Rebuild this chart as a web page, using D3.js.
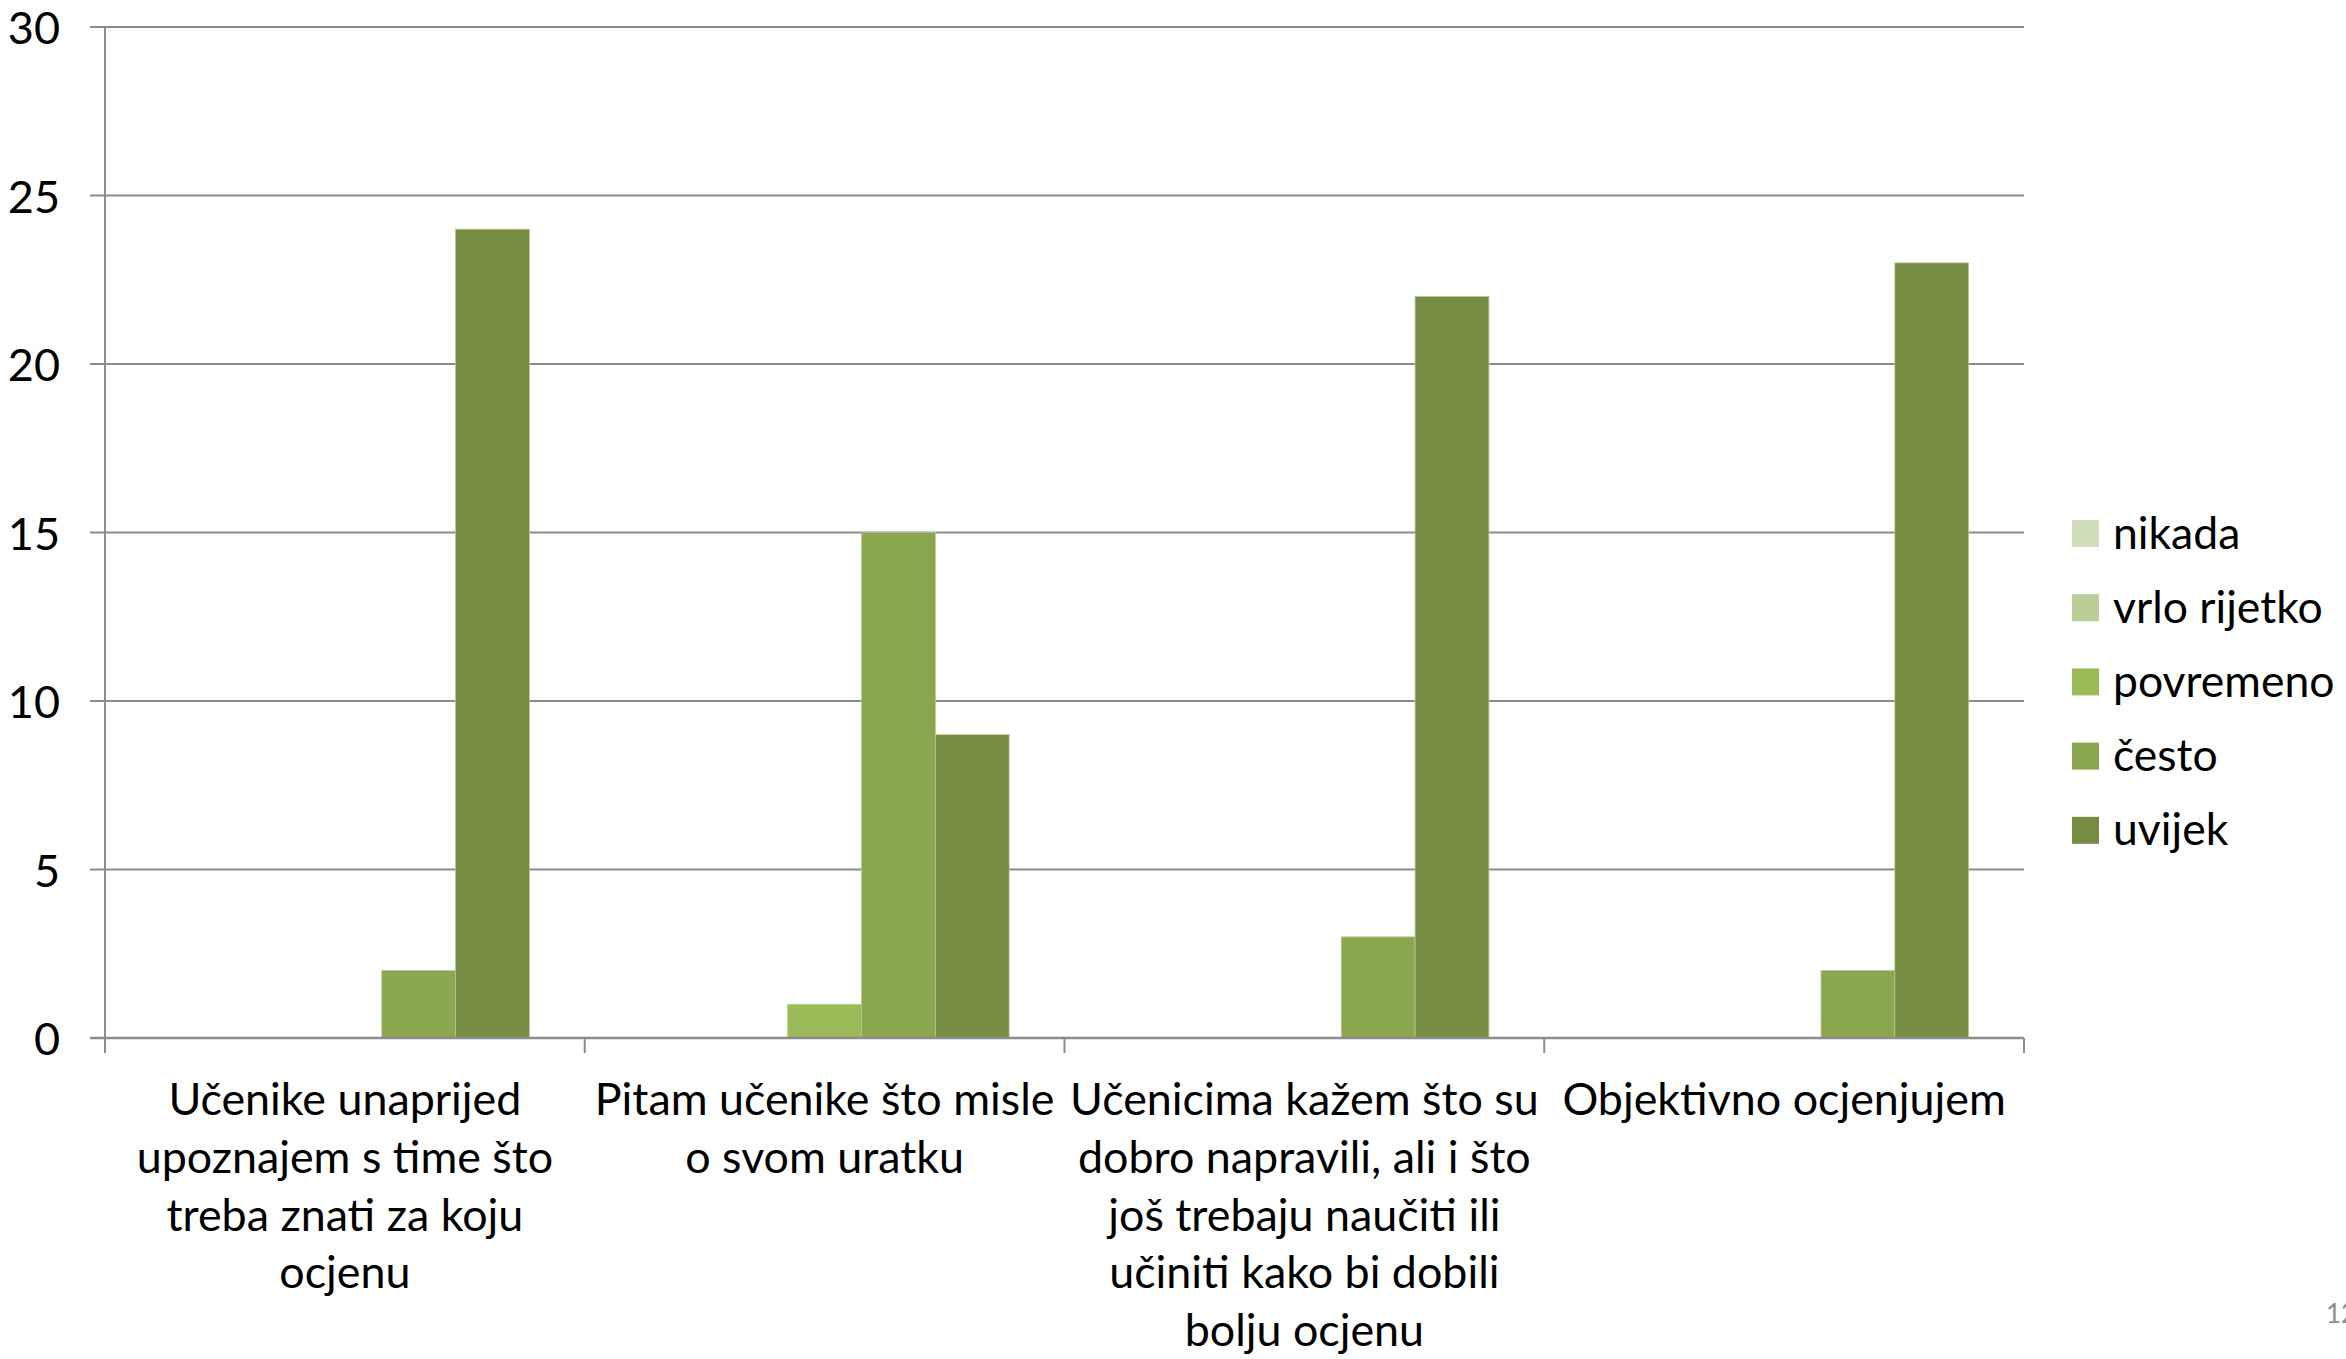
<!DOCTYPE html>
<html><head><meta charset="utf-8">
<script src="https://cdn.jsdelivr.net/npm/d3@7"></script>
<style>
html,body{margin:0;padding:0;background:#fff;overflow:hidden;}
text{font-family:Lato,"Open Sans",sans-serif;fill:#000;}
</style></head>
<body>
<svg id="chart" width="2346" height="1359"></svg>
<script>
const categories = [
  ["Učenike unaprijed","upoznajem s time što","treba znati za koju","ocjenu"],
  ["Pitam učenike što misle","o svom uratku"],
  ["Učenicima kažem što su","dobro napravili, ali i što","još trebaju naučiti ili","učiniti kako bi dobili","bolju ocjenu"],
  ["Objektivno ocjenjujem"]
];
const seriesNames = ["nikada","vrlo rijetko","povremeno","često","uvijek"];
const nikada      = [0, 0, 0, 0];
const vrloRijetko = [0, 0, 0, 0];
const povremeno   = [0, 1, 0, 0];
const cesto       = [2, 15, 3, 2];
const uvijek      = [24, 9, 22, 23];
const yTicks = [0, 5, 10, 15, 20, 25, 30];
const pageNumber = "12";

const seriesValues = [nikada, vrloRijetko, povremeno, cesto, uvijek];
const colors = ["#D1DEBC","#BACF98","#9BBB59","#8AA64F","#758C42"];

const svg = d3.select("#chart");
const L = 105, R = 2024, T = 27, B = 1038;

const catIdx = categories.map((c,i)=>i);
const x0 = d3.scaleBand().domain(catIdx).range([L, R]).padding(0);
const bw = x0.bandwidth();
const barW = bw / 6.5;
const x1 = d3.scaleBand().domain(seriesNames).range([0.75*barW, bw - 0.75*barW]).padding(0);
const y = d3.scaleLinear().domain([0, 30]).range([B, T]);

// gridlines
svg.append("g").selectAll("line").data(yTicks).join("line")
  .attr("x1", L - 15).attr("x2", R)
  .attr("y1", d => y(d)).attr("y2", d => y(d))
  .attr("stroke", "#8C8C8C").attr("stroke-width", 2);

// y tick labels
svg.append("g").selectAll("text").data(yTicks).join("text")
  .attr("x", 60).attr("y", d => y(d))
  .attr("text-anchor", "end").attr("dominant-baseline", "central")
  .style("font-size", "45px")
  .text(d => d);

// bars
const barData = [];
seriesValues.forEach((arr, si) => arr.forEach((v, ci) => barData.push({s: seriesNames[si], si, ci, v})));
svg.append("g").selectAll("rect").data(barData.filter(d => d.v > 0)).join("rect")
  .attr("x", d => x0(d.ci) + x1(d.s))
  .attr("width", x1.bandwidth())
  .attr("y", d => y(d.v))
  .attr("height", d => y(0) - y(d.v))
  .attr("fill", d => colors[d.si])
  .attr("stroke", "#B5C98E").attr("stroke-width", 0.8);

// axes lines
svg.append("line").attr("x1", L).attr("x2", L).attr("y1", T).attr("y2", B + 15)
  .attr("stroke", "#8C8C8C").attr("stroke-width", 2);
svg.append("line").attr("x1", L - 15).attr("x2", R).attr("y1", B).attr("y2", B)
  .attr("stroke", "#8C8C8C").attr("stroke-width", 2.5);
const bounds = catIdx.map(i => x0(i)).concat([R]);
svg.append("g").selectAll("line").data(bounds).join("line")
  .attr("x1", d => d).attr("x2", d => d).attr("y1", B).attr("y2", B + 15)
  .attr("stroke", "#8C8C8C").attr("stroke-width", 2);

// category labels
const lab = svg.append("g").selectAll("text").data(categories).join("text")
  .attr("text-anchor", "middle")
  .style("font-size", "44.8px");
lab.each(function(lines, i) {
  const t = d3.select(this);
  lines.forEach((ln, j) => {
    t.append("tspan").attr("x", x0(i) + bw/2).attr("y", 1098 + j*57.8)
      .attr("dominant-baseline", "central").text(ln);
  });
});

// legend
const lg = svg.append("g").selectAll("g").data(seriesNames).join("g")
  .attr("transform", (d,i) => `translate(2072, ${520 + i*74.2})`);
lg.append("rect").attr("width", 27).attr("height", 27).attr("fill", (d,i) => colors[i]);
lg.append("text").attr("x", 41).attr("y", 11).attr("dominant-baseline", "central")
  .style("font-size", "44.5px").text(d => d);

// page number
svg.append("text").attr("x", 2326).attr("y", 1323).style("font-size", "26px")
  .style("fill", "#8C8C8C").text(pageNumber);
</script>
</body></html>
